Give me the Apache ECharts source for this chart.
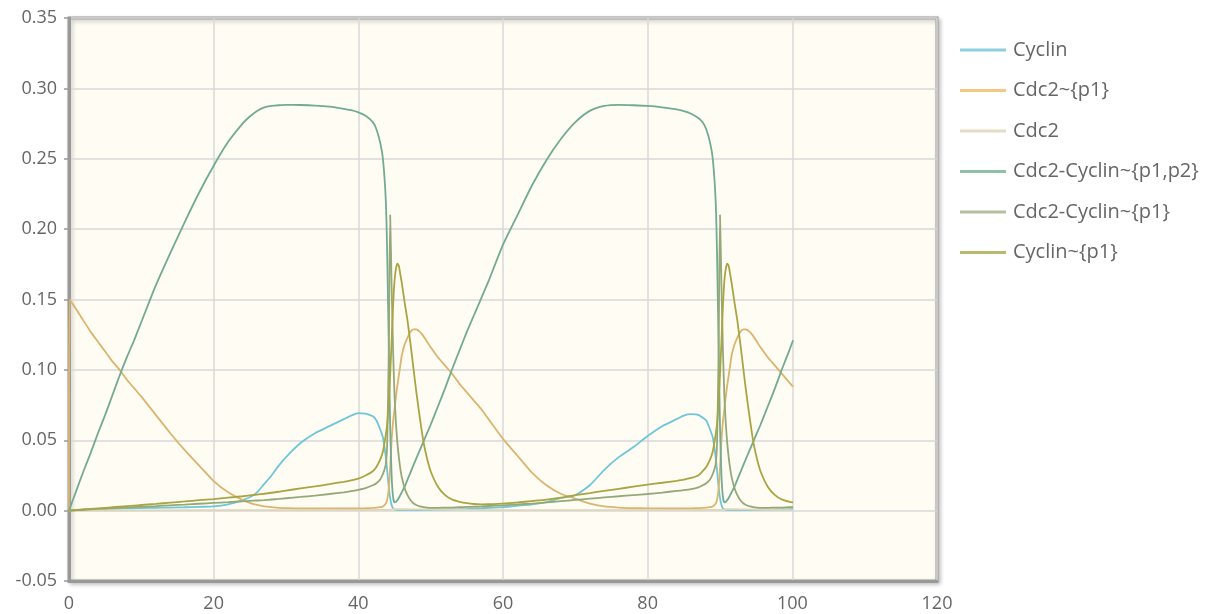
<!DOCTYPE html>
<html>
<head>
<meta charset="utf-8">
<script src="https://cdn.jsdelivr.net/npm/echarts@6/dist/echarts.min.js"></script>
<style>
html,body{margin:0;padding:0;background:#fff;}
#chart{width:1214px;height:614px;}
</style>
</head>
<body>
<div id="chart"></div>
<script>
// Time points (shared by most series)
var time = [
  0, 0.1, 1, 2, 3, 4, 5, 6, 7, 8, 9, 10, 12, 14, 16, 18, 20, 22, 24, 25, 26, 27, 28, 29, 30, 32, 34, 36, 38, 39, 40, 41, 42,
  42.5, 43, 43.4, 43.8, 44, 44.2, 44.4, 44.6, 44.8, 45, 45.2, 45.4, 45.6, 45.8, 46, 46.4, 46.8, 47.2, 47.6, 48, 48.5, 49, 49.5, 50, 51, 52, 53, 54, 55, 56, 57, 58,
  60, 62, 64, 66, 68, 70, 72, 74, 76, 78, 80, 82, 84, 85, 86, 87, 87.6,
  88.1, 88.6, 89, 89.4, 89.6, 89.8, 90, 90.2, 90.4, 90.6, 90.8, 91, 91.2, 91.4, 91.6, 92, 92.4, 92.8, 93.2, 93.6, 94.1, 94.6, 95.1, 95.6, 96.6, 97.6, 98.6, 99.6, 100.1
];

var cyclin = [
  0, 0, 0.0005, 0.0008, 0.001, 0.0012, 0.0013, 0.0014, 0.0015, 0.0016, 0.0017, 0.0018, 0.002, 0.0022, 0.0024, 0.0027, 0.003, 0.0045, 0.0075, 0.0095, 0.013, 0.019, 0.025, 0.032, 0.038, 0.048, 0.055, 0.06, 0.065, 0.0675, 0.0693, 0.069, 0.067,
  0.064, 0.058, 0.052, 0.038, 0.028, 0.017, 0.009, 0.004, 0.0015, 0.0008, 0.0005, 0.0004, 0.0004, 0.0004, 0.0004, 0.0004, 0.0004, 0.0004, 0.0004, 0.0004, 0.0004, 0.0005, 0.0005, 0.0006, 0.0007, 0.0008, 0.0009, 0.001, 0.0012, 0.0015, 0.0017, 0.002,
  0.0025, 0.0035, 0.0045, 0.006, 0.009, 0.011, 0.018, 0.029, 0.038, 0.045, 0.053, 0.06, 0.065, 0.0675, 0.0685, 0.068, 0.066,
  0.064, 0.058, 0.052, 0.038, 0.028, 0.017, 0.009, 0.004, 0.0015, 0.0008, 0.0005, 0.0004, 0.0004, 0.0004, 0.0004, 0.0004, 0.0004, 0.0004, 0.0004, 0.0004, 0.0004, 0.0005, 0.0005, 0.0006, 0.0007, 0.0008, 0.0009, 0.001, 0.0011
];

var cdc2p1 = [
  0, 0.15, 0.143, 0.135, 0.127, 0.12, 0.113, 0.106, 0.1, 0.093, 0.087, 0.081, 0.068, 0.055, 0.043, 0.032, 0.021, 0.013, 0.0075, 0.0055, 0.004, 0.003, 0.0025, 0.002, 0.0018, 0.0015, 0.0015, 0.0015, 0.0015, 0.0015, 0.0015, 0.0017, 0.002,
  0.0022, 0.0025, 0.003, 0.005, 0.008, 0.015, 0.03, 0.05, 0.063, 0.072, 0.081, 0.089, 0.096, 0.103, 0.11, 0.118, 0.123, 0.127, 0.1288, 0.1287, 0.127, 0.124, 0.12, 0.116, 0.109, 0.103, 0.097, 0.09, 0.084, 0.078, 0.072, 0.065,
  0.051, 0.039, 0.027, 0.018, 0.012, 0.0085, 0.005, 0.003, 0.0022, 0.0018, 0.0016, 0.0015, 0.0015, 0.0015, 0.0016, 0.0018, 0.002,
  0.0022, 0.0025, 0.003, 0.005, 0.008, 0.015, 0.03, 0.05, 0.063, 0.072, 0.081, 0.089, 0.096, 0.103, 0.11, 0.118, 0.123, 0.127, 0.1288, 0.1287, 0.127, 0.124, 0.12, 0.116, 0.109, 0.103, 0.097, 0.091, 0.088
];

// Free Cdc2 stays near zero
var cdc2Time = [0, 20, 44, 45, 60, 90, 91, 100.1];
var cdc2 = [0, 0.0003, 0.0005, 0.001, 0.0004, 0.0005, 0.001, 0.0004];

var cdc2CyclinP1P2 = [
  0, 0.0014, 0.014, 0.028, 0.041, 0.055, 0.068, 0.082, 0.096, 0.109, 0.121, 0.134, 0.160, 0.183, 0.205, 0.226, 0.245, 0.262, 0.275, 0.280, 0.284, 0.2865, 0.2875, 0.288, 0.2883, 0.2882, 0.2878, 0.287, 0.2855, 0.2845, 0.283, 0.2805, 0.276,
  0.271, 0.262, 0.25, 0.22, 0.18, 0.12, 0.06, 0.025, 0.01, 0.0058, 0.0062, 0.0075, 0.009, 0.011, 0.013, 0.017, 0.022, 0.027, 0.032, 0.037, 0.043, 0.049, 0.055, 0.061, 0.074, 0.087, 0.101, 0.114, 0.127, 0.139, 0.151, 0.163,
  0.189, 0.21, 0.231, 0.249, 0.264, 0.276, 0.284, 0.2875, 0.2883, 0.288, 0.2875, 0.2865, 0.285, 0.2838, 0.282, 0.279, 0.276,
  0.271, 0.262, 0.25, 0.22, 0.18, 0.12, 0.06, 0.025, 0.01, 0.0058, 0.0062, 0.0075, 0.009, 0.011, 0.013, 0.017, 0.022, 0.027, 0.032, 0.037, 0.043, 0.049, 0.055, 0.061, 0.074, 0.087, 0.101, 0.114, 0.121
];

var cdc2CyclinP1 = [
  0, 0, 0.0003, 0.0006, 0.0009, 0.0012, 0.0015, 0.0017, 0.002, 0.0022, 0.0025, 0.0027, 0.0032, 0.0038, 0.0043, 0.0049, 0.0055, 0.006, 0.0066, 0.0069, 0.0072, 0.0075, 0.0079, 0.0083, 0.0088, 0.0097, 0.0107, 0.0118, 0.013, 0.0138, 0.0148, 0.016, 0.018,
  0.0195, 0.022, 0.026, 0.033, 0.05, 0.11, 0.21, 0.16, 0.115, 0.082, 0.062, 0.048, 0.038, 0.03, 0.024, 0.016, 0.011, 0.0075, 0.0052, 0.004, 0.003, 0.0025, 0.0022, 0.002, 0.002, 0.0021, 0.0022, 0.0024, 0.0026, 0.0028, 0.003, 0.0033,
  0.0038, 0.0044, 0.005, 0.0058, 0.0067, 0.0076, 0.0085, 0.0094, 0.0102, 0.011, 0.0118, 0.0128, 0.014, 0.0145, 0.0152, 0.0165, 0.018,
  0.0195, 0.022, 0.026, 0.033, 0.05, 0.11, 0.21, 0.16, 0.115, 0.082, 0.062, 0.048, 0.038, 0.03, 0.024, 0.016, 0.011, 0.0075, 0.0052, 0.004, 0.003, 0.0025, 0.0022, 0.002, 0.002, 0.0021, 0.0022, 0.0024, 0.0025
];

var cyclinP1 = [
  0, 0.0001, 0.0004, 0.0008, 0.0012, 0.0016, 0.002, 0.0024, 0.0028, 0.0032, 0.0036, 0.004, 0.0048, 0.0057, 0.0065, 0.0074, 0.0082, 0.0092, 0.0102, 0.0108, 0.0114, 0.012, 0.0127, 0.0134, 0.0142, 0.0158, 0.0172, 0.0188, 0.0205, 0.0215, 0.0228, 0.025, 0.028,
  0.031, 0.036, 0.042, 0.054, 0.062, 0.077, 0.097, 0.12, 0.145, 0.163, 0.172, 0.1755, 0.174, 0.168, 0.162, 0.148, 0.135, 0.119, 0.102, 0.085, 0.066, 0.049, 0.037, 0.028, 0.017, 0.011, 0.0078, 0.0063, 0.0053, 0.0047, 0.0045, 0.0046,
  0.005, 0.0058, 0.0068, 0.0078, 0.0092, 0.011, 0.0125, 0.014, 0.0155, 0.017, 0.0185, 0.0198, 0.0212, 0.022, 0.0232, 0.025, 0.028,
  0.031, 0.036, 0.042, 0.054, 0.062, 0.077, 0.097, 0.12, 0.145, 0.163, 0.172, 0.1755, 0.174, 0.168, 0.162, 0.148, 0.135, 0.119, 0.102, 0.085, 0.066, 0.049, 0.037, 0.028, 0.017, 0.011, 0.0078, 0.0063, 0.0058
];

var names = ['Cyclin', 'Cdc2~{p1}', 'Cdc2', 'Cdc2-Cyclin~{p1,p2}', 'Cdc2-Cyclin~{p1}', 'Cyclin~{p1}'];
var colors = ['#6ec6d8', '#dab56e', '#ddd6bb', '#72aa93', '#95a878', '#a9a543'];
var legendColors = ['#8fcfdd', '#f3c982', '#e3dcc2', '#8fc0aa', '#b4c09c', '#bcb76e'];
var xTicks = { min: 0, max: 120, interval: 20 };
var yTicks = { min: -0.05, max: 0.35, interval: 0.05 };

function pairs(ts, vs) { return ts.map(function (t, i) { return [t, vs[i]]; }); }
var seriesData = [
  pairs(time, cyclin),
  pairs(time, cdc2p1),
  pairs(cdc2Time, cdc2),
  pairs(time, cdc2CyclinP1P2),
  pairs(time, cdc2CyclinP1),
  pairs(time, cyclinP1)
];

var chart = echarts.init(document.getElementById('chart'), null, { renderer: 'canvas' });
var font = "'Open Sans', 'Noto Sans', sans-serif";
chart.setOption({
  animation: false,
  backgroundColor: '#ffffff',
  color: colors,
  grid: {
    left: 69, top: 18, width: 868, height: 563,
    show: true, backgroundColor: '#fffcf3', borderColor: '#999', borderWidth: 3,
    shadowColor: 'rgba(0,0,0,0.22)', shadowBlur: 4, shadowOffsetX: 2, shadowOffsetY: 2
  },
  legend: {
    orient: 'vertical', left: 955, top: 35,
    itemWidth: 46, itemHeight: 12, itemGap: 20.5,
    textStyle: { fontFamily: font, fontSize: 20, color: '#666', padding: [0, 0, 0, 2] },
    data: names.map(function (n, i) {
      return { name: n, icon: 'path://M0,0L46,0L46,3L0,3Z', itemStyle: { color: legendColors[i] } };
    })
  },
  xAxis: {
    type: 'value', min: xTicks.min, max: xTicks.max, interval: xTicks.interval,
    axisLine: { show: true, onZero: false, lineStyle: { color: '#999', width: 3 } },
    axisTick: { show: false },
    axisLabel: { margin: 14, fontFamily: font, fontSize: 18, color: '#666' },
    splitLine: { show: true, lineStyle: { color: '#d9d9d9', width: 1.5 } }
  },
  yAxis: {
    type: 'value', min: yTicks.min, max: yTicks.max, interval: yTicks.interval,
    axisLine: { show: true, onZero: false, lineStyle: { color: '#999', width: 3 } },
    axisTick: { show: true, length: 5, lineStyle: { color: '#999', width: 1.5 } },
    axisLabel: { margin: 12, fontFamily: font, fontSize: 18, color: '#666',
      formatter: function (v) { return v.toFixed(2); } },
    splitLine: { show: true, lineStyle: { color: '#d9d9d9', width: 1.5 } }
  },
  series: names.map(function (n, i) {
    return {
      name: n, type: 'line', data: seriesData[i],
      symbol: 'none', showSymbol: false, smooth: 0.2,
      lineStyle: { width: 1.8, color: colors[i] },
      itemStyle: { color: colors[i] }
    };
  })
});
</script>
</body>
</html>
